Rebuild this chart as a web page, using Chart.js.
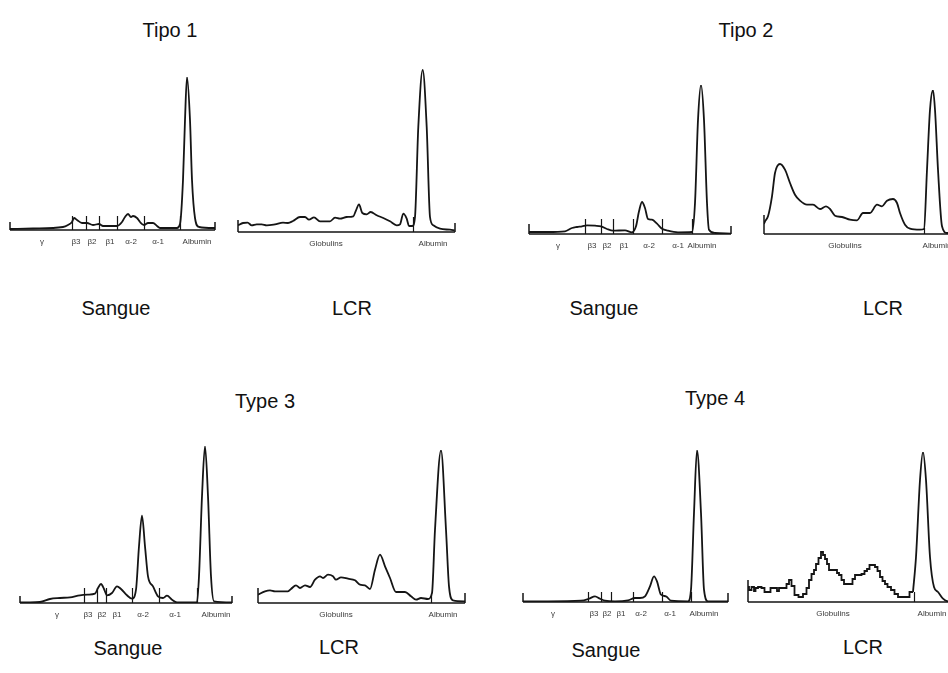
<!DOCTYPE html>
<html>
<head>
<meta charset="utf-8">
<script src="https://cdn.jsdelivr.net/npm/chart.js@4.4.0/dist/chart.umd.min.js"></script>
<style>
  html, body { margin: 0; padding: 0; background: #fff; overflow: hidden; }
  body { width: 948px; height: 673px; position: relative; font-family: "Liberation Sans", Arial, sans-serif; }
  canvas { position: absolute; }
  .txt { position: absolute; transform: translate(-50%, -50%); font-size: 20px; color: #111; white-space: nowrap; }
</style>
</head>
<body>

<div class="txt" style="left:170px;top:30px">Tipo 1</div>
<div class="txt" style="left:746px;top:30px">Tipo 2</div>
<div class="txt" style="left:116px;top:308px">Sangue</div>
<div class="txt" style="left:352px;top:308px">LCR</div>
<div class="txt" style="left:604px;top:308px">Sangue</div>
<div class="txt" style="left:883px;top:308px">LCR</div>
<div class="txt" style="left:265px;top:401px">Type 3</div>
<div class="txt" style="left:715px;top:398px">Type 4</div>
<div class="txt" style="left:128px;top:648px">Sangue</div>
<div class="txt" style="left:339px;top:647px">LCR</div>
<div class="txt" style="left:606px;top:650px">Sangue</div>
<div class="txt" style="left:863px;top:647px">LCR</div>

<script>
// Fraction labels
const serumLabels = ['γ', 'β3', 'β2', 'β1', 'α-2', 'α-1', 'Albumin'];
const csfLabels = ['Globulins', 'Albumin'];

// Tipo 1 - Sangue
const t1SerumX = [0, 23, 53, 58, 62, 64, 67, 72, 77, 83, 89, 93, 107, 112, 115, 118, 121, 123, 127, 130, 134, 138, 143, 147, 150, 167, 170, 173, 175, 177, 180, 182, 185, 189, 205];
const t1SerumY = [1, 1.5, 3, 5, 8, 12, 10, 7, 7, 5, 6, 4, 4, 8, 13, 16, 13, 14, 12, 8, 5, 7, 7, 4, 2, 2, 6, 50, 110, 153, 110, 50, 12, 3, 2];
const t1SerumDiv = [62, 76, 89, 107, 134, 170];
const t1SerumLblX = [32, 66, 82, 100, 121, 148, 187];

// Tipo 1 - LCR
const t1CsfX = [0, 5, 9.6, 13.7, 18.7, 23.7, 28.7, 37, 45, 50, 55, 62, 67, 71, 76, 82, 92, 97, 102, 108.7, 115.3, 118, 121, 124.3, 128.7, 132.7, 138.7, 145.3, 152, 158.7, 162, 165.3, 168.7, 171, 174.3, 177, 180.3, 184.7, 188.7, 192, 195.3, 202, 212, 216.7];
const t1CsfY = [6.7, 9, 9.3, 6.7, 7.7, 7.7, 6.7, 7.7, 9.3, 9, 11, 15, 15, 12.3, 14.7, 10.7, 10.7, 14.3, 13.3, 15, 15.7, 21.7, 27.7, 19, 17.7, 20, 16.7, 14, 10.7, 6.7, 7.7, 18.3, 13.3, 6, 6, 15, 105, 162, 105, 15, 6.7, 3.3, 2.3, 1.7];
const t1CsfDiv = [175];
const t1CsfLblX = [88, 195];

// Tipo 2 - Sangue
const t2SerumX = [0, 19, 36, 43, 48, 53, 58, 66, 72, 78, 84, 96, 103, 107, 110, 113, 116, 119, 123, 128, 133, 139, 149, 163, 166, 169, 172, 175, 178, 180, 186, 202];
const t2SerumY = [2, 2, 2.7, 6, 7, 7.7, 8.7, 8.3, 7.7, 5, 3.3, 3.7, 1.7, 7.7, 22.7, 32, 26, 15, 14.3, 10.3, 5.3, 3.3, 1.7, 2, 31, 114, 149, 114, 31, 4.3, 1, 0.3];
const t2SerumDiv = [56, 72, 84, 104, 133, 163];
const t2SerumLblX = [29, 63, 78, 95, 120, 149, 173];

// Tipo 2 - LCR
const t2CsfX = [0, 1, 4, 8, 11, 16, 21, 26, 31, 36, 43, 49, 56, 62, 66, 71, 78, 86, 93, 99, 106, 113, 118, 123, 129, 133, 136, 141, 146, 156, 160, 163, 166, 169, 171, 174, 178, 183, 190, 196];
const t2CsfY = [10, 12.7, 17.7, 37.7, 61, 70, 64.3, 51, 39.3, 33.3, 29.3, 29.3, 25, 27.7, 25, 18.3, 17, 14.3, 13.7, 21, 21, 29.3, 27.7, 33.3, 35, 31, 21, 9.3, 5.3, 4.3, 5, 64.3, 124.3, 144, 124.3, 64.3, 7.7, 1, 1, 1];
const t2CsfDiv = [160];
const t2CsfLblX = [81, 173];

// Type 3 - Sangue
const t3SerumX = [0, 10, 20, 30, 40, 50, 60, 68, 75, 78, 81, 84, 87, 92, 97, 101, 107, 112, 116, 119, 122, 125, 128, 133, 138, 143, 147, 152, 157, 177, 179, 182, 185, 188, 191, 194, 212];
const t3SerumY = [0.7, 0.7, 1, 4, 5, 5.7, 7.7, 8.3, 9.3, 15, 19, 14, 7.7, 10, 16.7, 14, 7.7, 4.3, 13.3, 56.7, 87.3, 56.7, 26.7, 16.7, 6.7, 5, 7.3, 3.3, 0.7, 0.7, 26.7, 106.7, 156.7, 106.7, 26.7, 1.7, 0.7];
const t3SerumDiv = [64, 77, 86, 112, 139, 177];
const t3SerumLblX = [37, 68, 82, 97, 123, 155, 196];

// Type 3 - LCR
const t3CsfX = [0, 7, 12, 17, 30, 33, 38, 42, 47, 52, 57, 62, 65, 70, 75, 78, 83, 90, 97, 102, 107, 112, 117, 122, 127, 132, 138, 147, 153, 158, 163, 170, 174, 177, 183, 188, 191, 195, 207];
const t3CsfY = [8.3, 11.7, 12.7, 11.7, 11.7, 14, 17.7, 15, 17.7, 16, 23.3, 26.7, 25, 28.3, 26.7, 23.3, 25.7, 24.3, 22.7, 18.3, 17.7, 14, 33.3, 48.3, 36.7, 25, 11, 11, 6.7, 3.3, 5, 4, 10, 73.3, 152.7, 73.3, 16.7, 2.7, 1.7];
const t3CsfDiv = [173];
const t3CsfLblX = [78, 185];

// Type 4 - Sangue
const t4SerumX = [0, 25, 58, 66, 72, 77, 82, 92, 105, 112, 117, 122, 127, 131, 134, 138, 143, 148, 165, 168, 171, 174, 178, 181, 185, 205];
const t4SerumY = [0.7, 0.7, 1.3, 3.3, 5.7, 3.3, 1.3, 0.7, 1.7, 4, 4, 5.7, 15.7, 25.7, 20.7, 7.3, 5.7, 1.3, 0.7, 12.3, 89, 151.7, 89, 12.3, 0.7, 0.7];
const t4SerumDiv = [65, 78, 88, 110, 139, 168];
const t4SerumLblX = [30, 71, 84, 98, 118, 147, 181];

// Type 4 - LCR (globulins traced as a staircase, albumin peak smooth)
const t4CsfGlobX = [0, 2, 5, 7, 8, 12, 15, 18, 22, 23, 28, 30, 32, 37, 40, 42, 45, 48, 53, 57, 60, 62, 65, 67, 69, 72, 74, 76, 78, 80, 82, 88, 90, 92, 95, 97, 103, 106, 108, 112, 115, 118, 120, 123, 126, 128, 131, 133, 136, 138, 141, 145, 148, 152, 158, 165];
const t4CsfGlobY = [15, 12, 15, 11, 14, 15, 14, 10, 10, 14, 14, 11, 14, 14, 18, 22, 16, 7, 5, 8, 14, 22, 28, 32, 38, 44, 50, 47, 43, 38, 32, 32, 29, 27, 22, 18, 18, 23, 27, 27, 28, 31, 33, 37, 37, 35, 31, 25, 21, 18, 15, 12, 8, 5, 5, 10];
const t4CsfAlbX = [165, 168, 172, 175, 178, 182, 186, 190, 195, 200, 207];
const t4CsfAlbY = [10, 45, 122, 150, 122, 45, 15, 10, 3.3, 0.7, 0.5];
const t4CsfDiv = [166];
const t4CsfLblX = [85, 184];

const INK = '#151515';
const LABEL_INK = '#3a3a3a';

// Draws baseline, end ticks, fraction dividers and fraction names
const gelAxis = {
    id: 'gelAxis',
    afterDatasetsDraw(chart, args, opts) {
        const { ctx, scales: { x, y } } = chart;
        const y0 = y.getPixelForValue(0);
        const xa = x.getPixelForValue(x.min);
        const xb = x.getPixelForValue(x.max);
        ctx.save();
        ctx.strokeStyle = INK;
        ctx.lineWidth = 1.5;
        ctx.beginPath();
        ctx.moveTo(xa, y0);
        ctx.lineTo(xb, y0);
        ctx.moveTo(xa, y0);
        ctx.lineTo(xa, y0 - opts.endL);
        ctx.moveTo(xb, y0);
        ctx.lineTo(xb, y0 - opts.endR);
        ctx.stroke();
        ctx.lineWidth = 1.2;
        ctx.beginPath();
        opts.dividers.forEach(v => {
            const px = Math.round(x.getPixelForValue(v)) + 0.5;
            ctx.moveTo(px, y0);
            ctx.lineTo(px, y0 - opts.divH);
        });
        ctx.stroke();
        ctx.fillStyle = LABEL_INK;
        ctx.font = '8px "Liberation Sans", Arial, sans-serif';
        ctx.textAlign = 'center';
        ctx.textBaseline = 'middle';
        opts.labels.forEach((t, i) => {
            ctx.fillText(t, x.getPixelForValue(opts.labelX[i]), y0 + 12);
        });
        ctx.restore();
    }
};

const pts = (xs, ys) => xs.map((v, i) => ({ x: v, y: ys[i] }));

function lineSet(data, stepped) {
    return {
        data,
        borderColor: INK,
        borderWidth: 1.8,
        pointRadius: 0,
        fill: false,
        stepped: stepped ? 'middle' : false,
        cubicInterpolationMode: 'monotone'
    };
}

// Panel placement: axis start (left), axis length, baseline y, peak height
function panel(cfg) {
    const pad = { left: 6, right: 6, top: 4, bottom: 22 };
    const canvas = document.createElement('canvas');
    canvas.width = cfg.len + pad.left + pad.right;
    canvas.height = cfg.peak + pad.top + pad.bottom;
    canvas.style.left = (cfg.left - pad.left) + 'px';
    canvas.style.top = (cfg.base - cfg.peak - pad.top) + 'px';
    document.body.appendChild(canvas);

    new Chart(canvas.getContext('2d'), {
        type: 'line',
        data: { datasets: cfg.sets },
        options: {
            responsive: false,
            animation: false,
            layout: { padding: pad },
            scales: {
                x: { type: 'linear', min: 0, max: cfg.len, display: false },
                y: { min: 0, max: cfg.peak, display: false }
            },
            plugins: {
                legend: { display: false },
                tooltip: { enabled: false },
                gelAxis: {
                    dividers: cfg.div,
                    labels: cfg.labels,
                    labelX: cfg.labelX,
                    divH: cfg.divH,
                    endL: cfg.endL,
                    endR: cfg.endR
                }
            }
        },
        plugins: [gelAxis]
    });
}

Chart.defaults.font.family = '"Liberation Sans", Arial, sans-serif';

panel({ left: 10, len: 205, base: 230, peak: 153, divH: 14, endL: 8, endR: 8,
    sets: [lineSet(pts(t1SerumX, t1SerumY))], div: t1SerumDiv, labels: serumLabels, labelX: t1SerumLblX });
panel({ left: 238, len: 217, base: 232, peak: 163, divH: 15, endL: 12, endR: 9,
    sets: [lineSet(pts(t1CsfX, t1CsfY))], div: t1CsfDiv, labels: csfLabels, labelX: t1CsfLblX });
panel({ left: 529, len: 202, base: 234, peak: 149, divH: 15, endL: 10, endR: 8,
    sets: [lineSet(pts(t2SerumX, t2SerumY))], div: t2SerumDiv, labels: serumLabels, labelX: t2SerumLblX });
panel({ left: 764, len: 196, base: 234, peak: 144, divH: 6, endL: 19, endR: 8,
    sets: [lineSet(pts(t2CsfX, t2CsfY))], div: t2CsfDiv, labels: csfLabels, labelX: t2CsfLblX });
panel({ left: 20, len: 212, base: 603, peak: 157, divH: 15, endL: 7, endR: 7,
    sets: [lineSet(pts(t3SerumX, t3SerumY))], div: t3SerumDiv, labels: serumLabels, labelX: t3SerumLblX });
panel({ left: 258, len: 207, base: 603, peak: 153, divH: 8, endL: 15, endR: 10,
    sets: [lineSet(pts(t3CsfX, t3CsfY))], div: t3CsfDiv, labels: csfLabels, labelX: t3CsfLblX });
panel({ left: 523, len: 205, base: 602, peak: 152, divH: 10, endL: 9, endR: 9,
    sets: [lineSet(pts(t4SerumX, t4SerumY))], div: t4SerumDiv, labels: serumLabels, labelX: t4SerumLblX });
panel({ left: 748, len: 207, base: 602, peak: 150, divH: 10, endL: 22, endR: 8,
    sets: [lineSet(pts(t4CsfGlobX, t4CsfGlobY), true), lineSet(pts(t4CsfAlbX, t4CsfAlbY))],
    div: t4CsfDiv, labels: csfLabels, labelX: t4CsfLblX });
</script>
</body>
</html>
